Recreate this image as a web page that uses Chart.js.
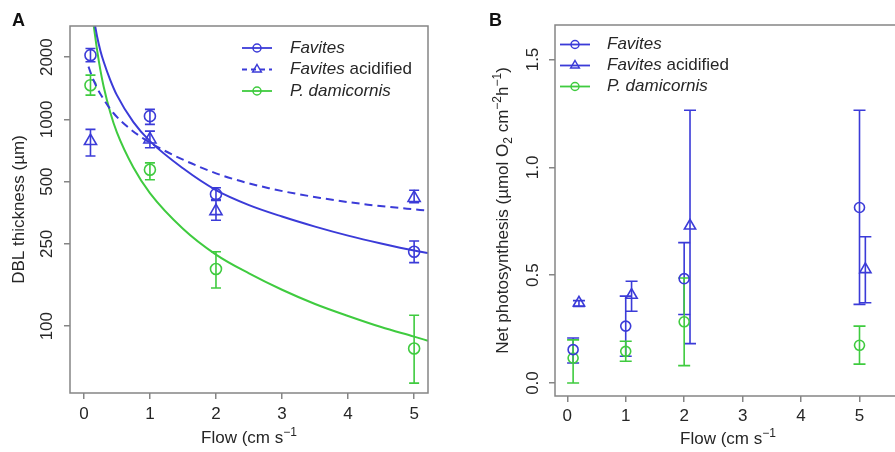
<!DOCTYPE html>
<html>
<head>
<meta charset="utf-8">
<script src="https://cdn.jsdelivr.net/npm/chart.js@4.4.1/dist/chart.umd.min.js"></script>
<style>
  html, body { margin: 0; padding: 0; background: #fff; overflow: hidden; }
  #wrapA { position: absolute; left: 0; top: 0; width: 440px; height: 452px; }
  #wrapB { position: absolute; left: 440px; top: 0; width: 461px; height: 452px; }
</style>
</head>
<body>
<div id="wrapA"><canvas id="chartA" width="440" height="452"></canvas></div>
<div id="wrapB"><canvas id="chartB" width="461" height="452"></canvas></div>
<script>
// ---- data, panel A (DBL thickness, um) ----
const flowA = [0.1, 1, 2, 5];
const favitesDbl = [2045, 1037, 435, 229];
const favitesDblLo = [1900, 946, 410, 203];
const favitesDblHi = [2202, 1118, 467, 258];
const acidDbl = [786, 800, 360, 417];
const acidDblLo = [665, 729, 325, 396];
const acidDblHi = [895, 878, 405, 454];
const pdamDbl = [1464, 571, 189, 78];
const pdamDblLo = [1310, 511, 153, 53];
const pdamDblHi = [1637, 616, 229, 113];

// fitted curves
const fitFlowFav = [0.17, 0.2, 0.25, 0.3, 0.4, 0.5, 0.75, 1, 1.5, 2, 2.5, 3, 3.5, 4, 4.5, 5, 5.21];
const fitFav = [2838, 2517, 2150, 1900, 1550, 1310, 970, 785, 580, 455, 385, 339, 303, 274, 251, 232, 226];
const fitFlowAcid = [0.07, 0.1, 0.19, 0.3, 0.44, 0.7, 0.95, 1.45, 2.1, 2.8, 3.58, 4.3, 5.09, 5.21];
const fitAcid = [1800, 1690, 1440, 1250, 1080, 900, 790, 650, 535, 465, 417, 387, 365, 362];
const fitFlowPdam = [0.15, 0.2, 0.25, 0.3, 0.4, 0.5, 0.75, 1, 1.5, 2, 2.5, 3, 3.5, 4, 4.5, 5, 5.21];
const fitPdam = [2830, 2170, 1730, 1440, 1080, 865, 585, 440, 296, 222, 180, 150, 128, 112, 99, 89, 85];

// ---- data, panel B (net photosynthesis) ----
const flowB = [0.1, 1, 2, 5];
const flowBAcid = [0.2, 1.1, 2.1, 5.1];
const favitesPs = [0.155, 0.264, 0.484, 0.814];
const favitesPsLo = [0.093, 0.124, 0.318, 0.365];
const favitesPsHi = [0.209, 0.403, 0.651, 1.265];
const acidPs = [0.372, 0.408, 0.729, 0.527];
const acidPsLo = [0.355, 0.333, 0.183, 0.372];
const acidPsHi = [0.382, 0.472, 1.265, 0.678];
const pdamPs = [0.116, 0.147, 0.284, 0.175];
const pdamPsLo = [0.0, 0.101, 0.081, 0.088];
const pdamPsHi = [0.2, 0.194, 0.487, 0.264];

const xTicks = [0, 1, 2, 3, 4, 5];
const yTicksA = [100, 250, 500, 1000, 2000];
const yTicksB = [0, 0.5, 1, 1.5];
const yTickLabelsB = ['0.0', '0.5', '1.0', '1.5'];

const BLUE = '#3b3bd8';
const GREEN = '#3fcb3f';
const TEXT = '#262626';
const FRAME = '#858585';
const FONT = '"Liberation Sans", Arial, Helvetica, sans-serif';
const FS = 17;

const pts = (xs, ys) => xs.map((x, i) => ({ x: x, y: ys[i] }));

// rich text: parts = [text, scale, dy, style]
function drawRich(ctx, parts, cx, cy, rot) {
  ctx.save();
  ctx.translate(cx, cy);
  ctx.rotate(rot || 0);
  ctx.fillStyle = TEXT;
  ctx.textBaseline = 'alphabetic';
  ctx.textAlign = 'left';
  const fontOf = p => `${p[3] || ''} ${Math.round(FS * p[1])}px ${FONT}`;
  let w = 0;
  parts.forEach(p => { ctx.font = fontOf(p); w += ctx.measureText(p[0]).width; });
  let xx = -w / 2;
  parts.forEach(p => {
    ctx.font = fontOf(p);
    ctx.fillText(p[0], xx, 6 + p[2]);
    xx += ctx.measureText(p[0]).width;
  });
  ctx.restore();
}

function drawMarker(ctx, style, x, y, r) {
  ctx.beginPath();
  if (style === 'triangle') {
    ctx.moveTo(x, y - r);
    ctx.lineTo(x + r * 0.866, y + r * 0.5);
    ctx.lineTo(x - r * 0.866, y + r * 0.5);
    ctx.closePath();
  } else {
    ctx.arc(x, y, r, 0, Math.PI * 2);
  }
  ctx.stroke();
}

function errorBarPlugin(sets, cap) {
  return {
    id: 'errorBars',
    beforeDatasetsDraw(chart) {
      const { ctx, chartArea, scales } = chart;
      ctx.save();
      ctx.beginPath();
      ctx.rect(chartArea.left, chartArea.top, chartArea.width, chartArea.height);
      ctx.clip();
      ctx.lineWidth = 1.6;
      sets.forEach(s => {
        ctx.strokeStyle = s.color;
        s.xs.forEach((xv, i) => {
          const px = scales.x.getPixelForValue(xv);
          const p1 = scales.y.getPixelForValue(s.lo[i]);
          const p2 = scales.y.getPixelForValue(s.hi[i]);
          ctx.beginPath();
          ctx.moveTo(px, p1); ctx.lineTo(px, p2);
          ctx.moveTo(px - cap, p1); ctx.lineTo(px + cap, p1);
          ctx.moveTo(px - cap, p2); ctx.lineTo(px + cap, p2);
          ctx.stroke();
        });
      });
      ctx.restore();
    }
  };
}

function decorPlugin(cfg) {
  return {
    id: 'decor',
    afterDraw(chart) {
      const { ctx, chartArea } = chart;
      const ys = chart.scales.y;
      ctx.save();
      // frame
      ctx.strokeStyle = FRAME;
      ctx.lineWidth = 1.5;
      ctx.strokeRect(chartArea.left, chartArea.top, chartArea.width, chartArea.height);
      // panel letter
      ctx.fillStyle = '#111';
      ctx.font = `bold 18px ${FONT}`;
      ctx.textBaseline = 'alphabetic';
      ctx.textAlign = 'left';
      ctx.fillText(cfg.letter, cfg.letterX, 26);
      // rotated y tick labels
      ctx.fillStyle = TEXT;
      ctx.font = `${FS}px ${FONT}`;
      ctx.textAlign = 'center';
      ctx.textBaseline = 'middle';
      cfg.yTicks.forEach((v, i) => {
        ctx.save();
        ctx.translate(cfg.yLabelX, ys.getPixelForValue(v));
        ctx.rotate(-Math.PI / 2);
        ctx.fillText(cfg.yLabels[i], 0, 0);
        ctx.restore();
      });
      // axis titles
      const midY = (chartArea.top + chartArea.bottom) / 2;
      drawRich(ctx, cfg.yTitle, cfg.yTitleX, midY, -Math.PI / 2);
      drawRich(ctx, [['Flow (cm s', 1, 0], ['\u22121', 0.7, -7]], cfg.xTitleX, cfg.xTitleY, 0);
      // legend
      cfg.legend.forEach((it, i) => {
        const y = cfg.legY + i * cfg.legDy;
        ctx.strokeStyle = it.color;
        ctx.lineWidth = 1.8;
        ctx.setLineDash(it.dash || []);
        ctx.beginPath();
        ctx.moveTo(cfg.legX0, y);
        ctx.lineTo(cfg.legX1, y);
        ctx.stroke();
        ctx.setLineDash([]);
        ctx.lineWidth = 1.5;
        drawMarker(ctx, it.marker, (cfg.legX0 + cfg.legX1) / 2, y, it.marker === 'triangle' ? 5 : 4);
        ctx.fillStyle = TEXT;
        ctx.textAlign = 'left';
        ctx.textBaseline = 'middle';
        let xx = cfg.legTextX;
        it.parts.forEach(p => {
          ctx.font = `${p[1] || ''} ${FS}px ${FONT}`;
          ctx.fillText(p[0], xx, y);
          xx += ctx.measureText(p[0]).width;
        });
      });
      ctx.restore();
    }
  };
}

function pointSet(data, color, style, r) {
  return {
    data: data, showLine: false, pointStyle: style, pointRadius: r,
    pointBorderWidth: 1.6, borderColor: color, pointBorderColor: color,
    backgroundColor: 'rgba(0,0,0,0)', pointBackgroundColor: 'rgba(0,0,0,0)'
  };
}

function curveSet(data, color, dash) {
  return {
    data: data, showLine: true, pointRadius: 0, borderColor: color, borderWidth: 2,
    borderDash: dash || [], cubicInterpolationMode: 'monotone', fill: false
  };
}

function xAxis(min, max, height, pad) {
  return {
    type: 'linear', min: min, max: max,
    afterBuildTicks: s => { s.ticks = xTicks.map(v => ({ value: v })); },
    afterFit: s => { s.height = height; s.paddingLeft = 0; s.paddingRight = 0; },
    grid: { display: true, drawOnChartArea: false, drawTicks: true, tickLength: 6, color: FRAME, lineWidth: 1.5 },
    border: { display: false },
    ticks: { color: TEXT, padding: pad, font: { family: FONT, size: FS }, maxRotation: 0, callback: v => String(v) }
  };
}

function yGrid() {
  return { display: true, drawOnChartArea: false, drawTicks: true, tickLength: 6, color: FRAME, lineWidth: 1.5 };
}

const legendA = [
  { color: BLUE, marker: 'circle', parts: [['Favites', 'italic']] },
  { color: BLUE, marker: 'triangle', dash: [5, 4], parts: [['Favites', 'italic'], [' acidified']] },
  { color: GREEN, marker: 'circle', parts: [['P. damicornis', 'italic']] }
];
const legendB = [
  { color: BLUE, marker: 'circle', parts: [['Favites', 'italic']] },
  { color: BLUE, marker: 'triangle', parts: [['Favites', 'italic'], [' acidified']] },
  { color: GREEN, marker: 'circle', parts: [['P. damicornis', 'italic']] }
];

new Chart(document.getElementById('chartA'), {
  type: 'scatter',
  data: {
    datasets: [
      curveSet(pts(fitFlowFav, fitFav), BLUE),
      curveSet(pts(fitFlowAcid, fitAcid), BLUE, [8, 5]),
      curveSet(pts(fitFlowPdam, fitPdam), GREEN),
      pointSet(pts(flowA, favitesDbl), BLUE, 'circle', 5.5),
      pointSet(pts(flowA, acidDbl), BLUE, 'triangle', 7),
      pointSet(pts(flowA, pdamDbl), GREEN, 'circle', 5.5)
    ]
  },
  options: {
    responsive: false, animation: false,
    layout: { autoPadding: false, padding: { left: 0, top: 26, right: 12, bottom: 0 } },
    plugins: { legend: { display: false }, tooltip: { enabled: false } },
    scales: {
      x: xAxis(-0.21, 5.21, 59, 5),
      y: {
        type: 'logarithmic', min: 47.5, max: 2830,
        afterBuildTicks: s => { s.ticks = yTicksA.map(v => ({ value: v })); },
        afterFit: s => { s.width = 70; s.paddingTop = 0; s.paddingBottom = 0; },
        grid: yGrid(), border: { display: false },
        ticks: { display: false }
      }
    }
  },
  plugins: [
    errorBarPlugin([
      { xs: flowA, lo: favitesDblLo, hi: favitesDblHi, color: BLUE },
      { xs: flowA, lo: acidDblLo, hi: acidDblHi, color: BLUE },
      { xs: flowA, lo: pdamDblLo, hi: pdamDblHi, color: GREEN }
    ], 5),
    decorPlugin({
      letter: 'A', letterX: 12,
      yTicks: yTicksA, yLabels: yTicksA.map(String), yLabelX: 47,
      yTitle: [['DBL thickness (\u00b5m)', 1, 0]], yTitleX: 18,
      xTitleX: 249, xTitleY: 437,
      legend: legendA, legX0: 242, legX1: 272, legTextX: 290, legY: 48, legDy: 21.5
    })
  ]
});

new Chart(document.getElementById('chartB'), {
  type: 'scatter',
  data: {
    datasets: [
      pointSet(pts(flowB, favitesPs), BLUE, 'circle', 5),
      pointSet(pts(flowBAcid, acidPs), BLUE, 'triangle', 6.5),
      pointSet(pts(flowB, pdamPs), GREEN, 'circle', 5)
    ]
  },
  options: {
    responsive: false, animation: false,
    layout: { autoPadding: false, padding: { left: 0, top: 25, right: 0, bottom: 0 } },
    plugins: { legend: { display: false }, tooltip: { enabled: false } },
    scales: {
      x: xAxis(-0.21, 5.71, 56, 4),
      y: {
        type: 'linear', min: -0.06, max: 1.66,
        afterBuildTicks: s => { s.ticks = yTicksB.map(v => ({ value: v })); },
        afterFit: s => { s.width = 115; s.paddingTop = 0; s.paddingBottom = 0; },
        grid: yGrid(), border: { display: false },
        ticks: { display: false }
      }
    }
  },
  plugins: [
    errorBarPlugin([
      { xs: flowB, lo: favitesPsLo, hi: favitesPsHi, color: BLUE },
      { xs: flowBAcid, lo: acidPsLo, hi: acidPsHi, color: BLUE },
      { xs: flowB, lo: pdamPsLo, hi: pdamPsHi, color: GREEN }
    ], 6),
    decorPlugin({
      letter: 'B', letterX: 49,
      yTicks: yTicksB, yLabels: yTickLabelsB, yLabelX: 93,
      yTitle: [['Net photosynthesis (\u00b5mol O', 1, 0], ['2', 0.7, 4], [' cm', 1, 0], ['\u22122', 0.7, -7],
               ['h', 1, 0], ['\u22121', 0.7, -7], [')', 1, 0]],
      yTitleX: 62,
      xTitleX: 288, xTitleY: 438,
      legend: legendB, legX0: 120, legX1: 150, legTextX: 167, legY: 44.5, legDy: 21
    })
  ]
});
</script>
</body>
</html>
